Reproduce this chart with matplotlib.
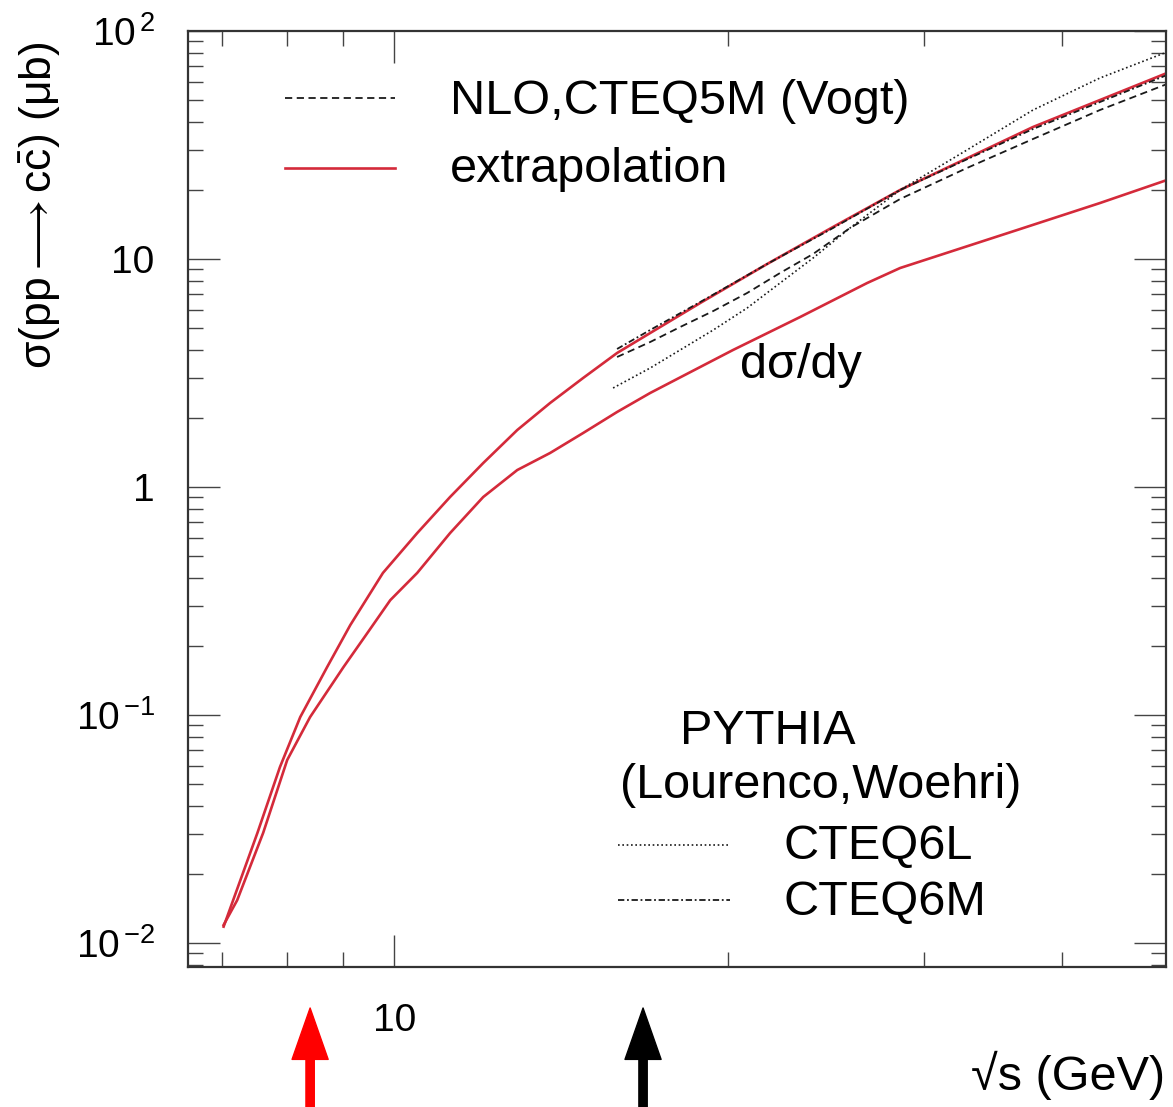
import matplotlib
matplotlib.use("Agg")
import matplotlib.pyplot as plt
from matplotlib.ticker import FixedLocator, FixedFormatter, NullFormatter, LogLocator

plt.rcParams['font.family'] = ['Liberation Sans', 'DejaVu Sans']
plt.rcParams['mathtext.fontset'] = 'custom'
plt.rcParams['mathtext.rm'] = 'Liberation Sans'
plt.rcParams['mathtext.it'] = 'Liberation Sans:italic'
plt.rcParams['mathtext.sf'] = 'Liberation Sans'

# ---- data: sqrt(s) in GeV, cross sections in microbarn ----
extrap_total_sqrts = [7.02, 7.53, 7.89, 8.23, 8.70, 9.13, 9.77, 10.49, 11.23, 12.03, 12.91,
                      13.82, 14.80, 15.88, 17.01, 18.87, 21.68, 24.86, 28.57, 37.64, 49.71]
extrap_total_sigma = [0.0118, 0.0304, 0.0591, 0.098, 0.162, 0.248, 0.420, 0.628, 0.904, 1.274, 1.778,
                      2.336, 3.007, 3.870, 4.736, 6.412, 9.507, 13.82, 20.08, 37.93, 65.44]

extrap_dsdy_sqrts = [7.02, 7.22, 7.62, 8.01, 8.40, 9.00, 9.46, 9.92, 10.49, 11.23, 12.03, 12.91,
                     13.82, 14.80, 15.88, 17.01, 18.87, 20.20, 23.22, 26.68, 28.57, 36.42, 43.25, 49.71]
extrap_dsdy_sigma = [0.0120, 0.0154, 0.0304, 0.0635, 0.098, 0.162, 0.229, 0.319, 0.420, 0.628, 0.904, 1.187,
                     1.410, 1.725, 2.133, 2.585, 3.360, 3.990, 5.568, 7.847, 9.131, 13.40, 17.60, 22.21]

nlo_sqrts = [15.88, 17.01, 18.10, 19.39, 20.80, 22.27, 23.85, 25.75, 28.57, 32.82, 37.64, 43.25, 49.71]
nlo_sigma = [3.717, 4.325, 5.031, 5.915, 7.095, 8.683, 10.52, 13.68, 18.33, 25.07, 33.60, 45.03, 58.55]

cteq6l_sqrts = [15.75, 17.01, 18.10, 19.39, 20.80, 22.27, 23.85, 25.75, 28.57, 32.82, 37.64, 43.25, 49.71]
cteq6l_sigma = [2.718, 3.326, 3.990, 4.883, 6.097, 7.847, 10.10, 13.68, 20.08, 30.07, 45.03, 62.22, 80.88]

cteq6m_sqrts = [15.88, 17.01, 18.87, 21.68, 24.86, 28.57, 37.64, 49.71]
cteq6m_sigma = [4.031, 4.883, 6.477, 9.507, 13.68, 20.08, 37.17, 64.13]

# beam energies marked below the axis
arrow_energies = [8.40, 16.76]
arrow_colors = ['#ff0000', '#000000']

y_major = [0.01, 0.1, 1, 10, 100]
y_major_labels = [r'10$^{\,\mathregular{-2}}$', r'10$^{\,\mathregular{-1}}$', '1', '10',
                  r'10$^{\,\mathregular{2}}$']
x_major = [10]
x_major_labels = ['10']

RED = '#d42a3a'
INK = '#1a1a1a'
FS = 35

fig = plt.figure(figsize=(11.73, 11.07), dpi=100)
ax = fig.add_axes([188 / 1173, 1 - 967 / 1107, 978 / 1173, 936 / 1107])
ax.set_xscale('log')
ax.set_yscale('log')
ax.set_xlim(6.52, 49.6)
ax.set_ylim(0.00785, 100)

ax.plot(extrap_total_sqrts, extrap_total_sigma, color=RED, lw=1.9, solid_joinstyle='round')
ax.plot(extrap_dsdy_sqrts, extrap_dsdy_sigma, color=RED, lw=1.9, solid_joinstyle='round')
ax.plot(nlo_sqrts, nlo_sigma, color=INK, lw=1.3, dashes=(4, 2.5))
ax.plot(cteq6l_sqrts, cteq6l_sigma, color=INK, lw=1.2, dashes=(1, 1.6))
ax.plot(cteq6m_sqrts, cteq6m_sigma, color=INK, lw=1.3, dashes=(3.5, 1.5, 1, 1.5))

# axes, ticks
for sp in ax.spines.values():
    sp.set_linewidth(1.6)
    sp.set_color('#333333')

ax.yaxis.set_major_locator(FixedLocator(y_major))
ax.yaxis.set_major_formatter(FixedFormatter(y_major_labels))
ax.yaxis.set_minor_locator(LogLocator(base=10, subs=range(2, 10)))
ax.yaxis.set_minor_formatter(NullFormatter())
ax.xaxis.set_major_locator(FixedLocator(x_major))
ax.xaxis.set_major_formatter(FixedFormatter(x_major_labels))
ax.xaxis.set_minor_locator(LogLocator(base=10, subs=range(2, 10)))
ax.xaxis.set_minor_formatter(NullFormatter())

ax.tick_params(which='both', direction='in', top=True, right=True, color='#444444')
ax.tick_params(which='major', length=23, width=1.0, labelsize=28, pad=24)
ax.tick_params(which='minor', length=11, width=1.0)
ax.tick_params(axis='x', which='major', pad=26)

# axis titles
fig.text(40 / 1173, 1 - 205 / 1107, r'σ(pp$\longrightarrow$c$\bar{\mathrm{c}}$) (μb)', rotation=90,
         ha='center', va='center', fontsize=32)
fig.text(1165 / 1173, 1 - 1075 / 1107, '√s (GeV)', ha='right', va='center', fontsize=FS)

# legend block, upper left
def ax_xy(px, py):
    return (px - 188) / 978, (967 - py) / 936

x0, y0 = ax_xy(285, 98)
x1, _ = ax_xy(395, 98)
ax.plot([x0, x1], [y0, y0], transform=ax.transAxes, color=INK, lw=1.3, dashes=(4, 2.5))
ax.text(*ax_xy(450, 102), 'NLO,CTEQ5M (Vogt)', transform=ax.transAxes, fontsize=FS,
        ha='left', va='center')
x0, y0 = ax_xy(285, 168)
ax.plot([x0, x1], [y0, y0], transform=ax.transAxes, color=RED, lw=1.9)
ax.text(*ax_xy(450, 170), 'extrapolation', transform=ax.transAxes, fontsize=FS,
        ha='left', va='center')

ax.text(*ax_xy(740, 365), 'dσ/dy', transform=ax.transAxes, fontsize=FS, ha='left', va='center')

# PYTHIA legend block, lower right
ax.text(*ax_xy(680, 732), 'PYTHIA', transform=ax.transAxes, fontsize=FS, ha='left', va='center')
ax.text(*ax_xy(620, 785), '(Lourenco,Woehri)', transform=ax.transAxes, fontsize=FS,
        ha='left', va='center')
x0, y0 = ax_xy(618, 845)
x1, _ = ax_xy(730, 845)
ax.plot([x0, x1], [y0, y0], transform=ax.transAxes, color=INK, lw=1.2, dashes=(1, 1.6))
ax.text(*ax_xy(783, 847), 'CTEQ6L', transform=ax.transAxes, fontsize=FS, ha='left', va='center')
x0, y0 = ax_xy(618, 900)
ax.plot([x0, x1], [y0, y0], transform=ax.transAxes, color=INK, lw=1.3,
        dashes=(3.5, 1.5, 1, 1.5))
ax.text(*ax_xy(783, 902), 'CTEQ6M', transform=ax.transAxes, fontsize=FS, ha='left', va='center')

# arrows below the axis
tip = (967 - 1008) / 936
tail = (967 - 1110) / 936
for e, c in zip(arrow_energies, arrow_colors):
    ax.annotate('', xy=(e, tip), xytext=(e, tail), xycoords=('data', 'axes fraction'),
                textcoords=('data', 'axes fraction'), annotation_clip=False,
                arrowprops=dict(width=6, headwidth=26, headlength=37, color=c, shrink=0))

fig.savefig('out.png', dpi=100)
